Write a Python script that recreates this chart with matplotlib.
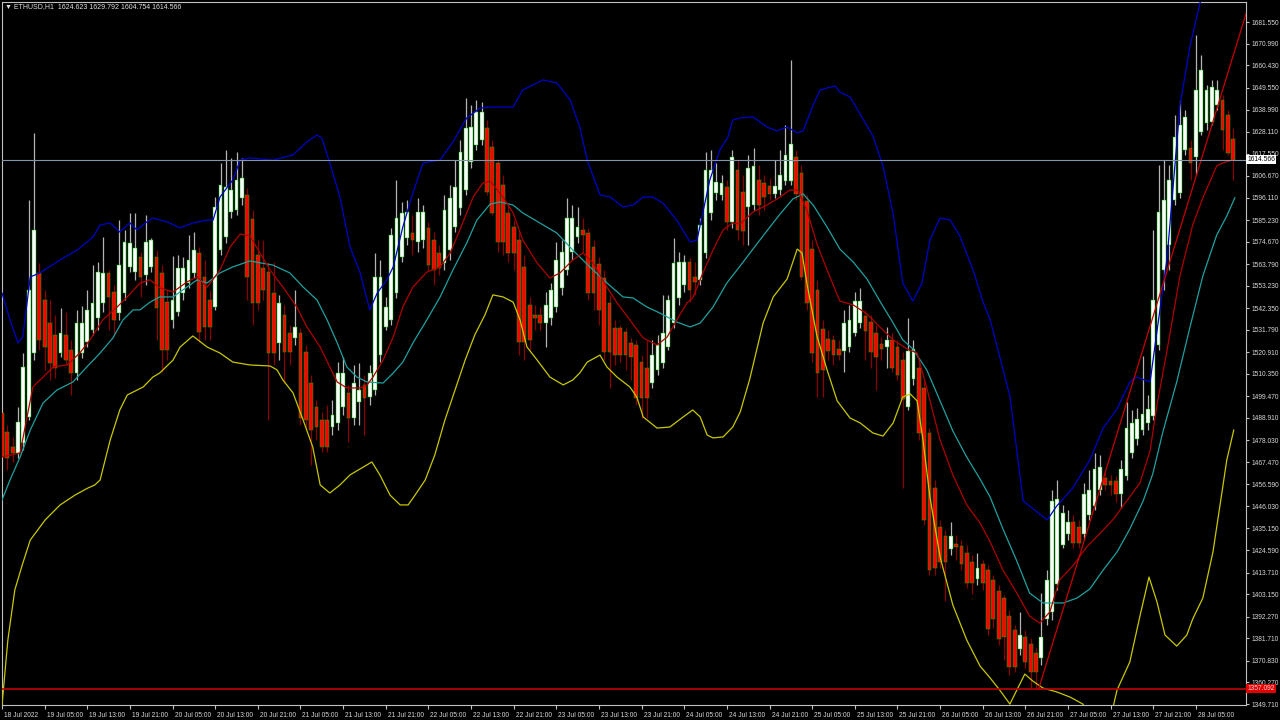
import matplotlib
matplotlib.use('Agg')
import matplotlib.pyplot as plt
import matplotlib.transforms as mtransforms
from matplotlib.ticker import FormatStrFormatter

plt.rcParams['font.family'] = ['Liberation Sans', 'DejaVu Sans']

# ETHUSD H1, 18 Jul 21:00 -> 28 Jul 12:00 (bar index 0..231)
opens = [
    1491.3, 1482.1, 1474.8, 1471.9, 1476.7, 1489.4, 1520.5, 1559.5,
    1546.3, 1535.1, 1529.3, 1520.5, 1529.3, 1522.0, 1510.8, 1520.5,
    1525.9, 1531.7, 1537.6, 1544.9, 1559.5, 1550.2, 1540.0, 1549.7,
    1562.4, 1559.9, 1567.2, 1558.5, 1562.4, 1567.2, 1559.5, 1545.3,
    1536.6, 1540.5, 1549.7, 1554.6, 1559.5, 1569.2, 1557.5, 1546.3,
    1542.9, 1570.6, 1577.0, 1589.1, 1590.1, 1596.0, 1597.4, 1585.7,
    1568.2, 1561.9, 1559.9, 1549.7, 1525.4, 1539.0, 1530.3, 1527.8,
    1530.3, 1521.0, 1505.9, 1494.3, 1487.9, 1487.9, 1484.5, 1486.5,
    1494.3, 1501.1, 1488.9, 1496.7, 1505.0, 1499.1, 1502.5, 1519.5,
    1533.2, 1536.6, 1549.7, 1567.2, 1576.5, 1578.9, 1574.5, 1575.5,
    1581.4, 1575.5, 1569.2, 1564.3, 1570.6, 1581.8, 1591.1, 1599.8,
    1613.5, 1621.7, 1624.2, 1630.0, 1620.8, 1613.0, 1602.3, 1588.7,
    1581.8, 1575.5, 1562.4, 1543.9, 1539.0, 1539.0, 1535.1, 1537.6,
    1542.9, 1552.2, 1560.9, 1569.7, 1577.0, 1580.4, 1578.9, 1572.1,
    1563.8, 1557.0, 1544.9, 1532.7, 1532.7, 1530.7, 1525.4, 1524.4,
    1516.1, 1513.2, 1505.9, 1512.3, 1515.7, 1523.4, 1535.1, 1547.3,
    1553.6, 1564.8, 1557.5, 1556.1, 1569.2, 1588.7, 1598.4, 1597.4,
    1601.3, 1584.3, 1609.6, 1598.9, 1591.6, 1592.5, 1604.7, 1603.2,
    1601.8, 1597.9, 1599.8, 1604.2, 1604.2, 1615.9, 1608.1, 1594.5,
    1571.1, 1551.2, 1532.2, 1527.3, 1526.9, 1522.5, 1521.5, 1523.4,
    1530.3, 1535.1, 1538.5, 1535.6, 1530.3, 1524.9, 1523.4, 1526.9,
    1523.4, 1517.1, 1494.3, 1507.9, 1513.2, 1503.5, 1481.6, 1454.8,
    1435.9, 1431.5, 1425.2, 1427.6, 1426.6, 1423.2, 1418.8, 1410.6,
    1417.9, 1414.9, 1410.1, 1404.7, 1401.3, 1392.5, 1385.7, 1376.5,
    1382.3, 1378.9, 1374.5, 1372.1, 1391.1, 1394.5, 1408.1, 1427.1,
    1432.5, 1438.3, 1435.9, 1432.5, 1441.7, 1446.1, 1453.9, 1459.7,
    1458.2, 1458.2, 1451.9, 1460.7, 1471.9, 1478.7, 1483.0, 1486.5,
    1489.9, 1524.4, 1560.9, 1573.1, 1595.0, 1598.4, 1619.4, 1620.3,
    1615.9, 1628.1, 1632.4, 1632.9, 1641.2, 1643.6, 1636.3, 1624.623,
]
closes = [
    1469.9, 1469.4, 1471.9, 1487.0, 1513.7, 1551.2, 1580.4, 1526.9,
    1523.4, 1515.7, 1513.2, 1530.3, 1517.1, 1510.8, 1535.1, 1535.1,
    1541.5, 1544.9, 1559.9, 1559.5, 1547.8, 1536.6, 1563.3, 1574.5,
    1574.1, 1571.6, 1557.5, 1574.5, 1575.5, 1542.4, 1522.0, 1522.0,
    1546.3, 1561.9, 1561.9, 1565.8, 1570.6, 1530.7, 1533.2, 1533.2,
    1591.6, 1602.3, 1601.3, 1599.8, 1604.7, 1605.7, 1557.5, 1544.9,
    1544.9, 1551.2, 1520.5, 1520.5, 1544.9, 1521.0, 1521.0, 1533.2,
    1488.9, 1487.9, 1483.0, 1484.5, 1474.8, 1474.8, 1490.4, 1510.8,
    1510.8, 1488.9, 1505.9, 1502.5, 1498.6, 1510.8, 1557.5, 1557.5,
    1542.9, 1577.9, 1586.2, 1588.7, 1589.1, 1575.5, 1589.1, 1589.1,
    1563.3, 1560.9, 1561.9, 1590.1, 1596.0, 1601.3, 1618.3, 1630.0,
    1630.5, 1637.8, 1637.8, 1598.9, 1588.7, 1574.5, 1574.5, 1569.2,
    1569.2, 1525.9, 1525.9, 1526.9, 1537.6, 1535.1, 1543.9, 1551.2,
    1565.8, 1569.7, 1586.2, 1586.2, 1581.8, 1577.9, 1549.7, 1549.7,
    1541.5, 1521.0, 1521.0, 1519.5, 1519.5, 1519.5, 1518.6, 1498.6,
    1498.6, 1498.6, 1519.5, 1524.4, 1530.3, 1546.3, 1564.3, 1564.8,
    1564.8, 1551.2, 1555.1, 1582.8, 1609.6, 1609.6, 1603.7, 1603.2,
    1584.3, 1615.9, 1580.4, 1579.9, 1610.5, 1611.5, 1592.5, 1596.4,
    1597.9, 1601.8, 1607.1, 1616.9, 1622.2, 1597.9, 1557.5, 1544.9,
    1520.5, 1510.8, 1512.3, 1521.5, 1519.5, 1519.5, 1535.1, 1536.6,
    1545.8, 1545.8, 1531.2, 1521.0, 1518.6, 1522.5, 1526.9, 1513.2,
    1509.8, 1498.1, 1521.5, 1522.5, 1481.6, 1439.3, 1414.9, 1415.9,
    1418.8, 1418.8, 1431.5, 1426.1, 1417.9, 1408.6, 1408.6, 1415.9,
    1408.6, 1386.2, 1391.1, 1381.4, 1382.3, 1367.7, 1367.7, 1383.3,
    1370.2, 1365.3, 1365.3, 1382.3, 1410.1, 1448.5, 1449.5, 1442.7,
    1438.3, 1428.1, 1428.1, 1451.9, 1453.9, 1464.1, 1465.0, 1456.3,
    1456.3, 1451.9, 1464.1, 1484.0, 1486.5, 1488.4, 1490.8, 1493.3,
    1546.3, 1589.1, 1595.0, 1604.7, 1625.6, 1631.5, 1635.4, 1613.0,
    1648.5, 1658.2, 1648.5, 1650.0, 1648.5, 1629.0, 1617.8, 1614.566,
]
highs = [
    1495.2, 1485.5, 1479.7, 1494.3, 1520.5, 1595.0, 1627.6, 1564.3,
    1551.2, 1546.3, 1539.0, 1542.4, 1540.5, 1526.9, 1541.5, 1543.4,
    1551.2, 1563.3, 1564.8, 1577.0, 1560.9, 1553.6, 1585.2, 1580.4,
    1588.7, 1588.7, 1569.7, 1587.7, 1576.5, 1570.6, 1563.3, 1551.2,
    1567.7, 1568.2, 1567.2, 1577.9, 1579.4, 1572.1, 1565.8, 1551.2,
    1596.4, 1613.0, 1619.4, 1615.4, 1618.3, 1615.4, 1600.8, 1590.1,
    1575.5, 1575.5, 1564.8, 1564.8, 1548.8, 1543.9, 1534.2, 1551.2,
    1532.7, 1524.4, 1509.8, 1497.7, 1491.8, 1495.2, 1497.7, 1516.1,
    1518.6, 1505.0, 1514.7, 1515.7, 1509.8, 1514.7, 1569.2, 1565.8,
    1547.8, 1581.4, 1604.7, 1594.0, 1595.0, 1587.7, 1596.0, 1592.5,
    1584.3, 1579.4, 1573.1, 1597.4, 1602.3, 1614.4, 1624.2, 1644.6,
    1641.2, 1643.6, 1642.7, 1633.9, 1624.2, 1614.4, 1607.1, 1592.5,
    1585.2, 1579.4, 1568.2, 1547.8, 1543.9, 1542.9, 1550.2, 1554.6,
    1574.5, 1575.5, 1596.0, 1592.5, 1591.6, 1586.2, 1581.4, 1575.5,
    1567.2, 1560.9, 1548.8, 1536.6, 1534.2, 1532.7, 1527.8, 1526.9,
    1519.5, 1526.9, 1526.9, 1529.3, 1548.8, 1548.8, 1576.5, 1569.7,
    1568.2, 1566.8, 1564.8, 1586.2, 1618.3, 1619.4, 1613.0, 1607.1,
    1604.7, 1619.4, 1614.4, 1607.1, 1616.9, 1620.3, 1612.0, 1607.1,
    1605.7, 1614.4, 1619.4, 1631.5, 1663.1, 1619.4, 1612.0, 1597.4,
    1575.5, 1556.1, 1536.6, 1531.7, 1529.3, 1526.9, 1541.5, 1543.9,
    1550.2, 1552.2, 1541.5, 1539.0, 1534.2, 1528.3, 1533.2, 1530.3,
    1526.9, 1521.0, 1537.6, 1526.9, 1517.1, 1507.4, 1484.0, 1458.7,
    1439.3, 1434.4, 1438.3, 1432.0, 1429.5, 1427.1, 1422.2, 1423.2,
    1419.8, 1417.4, 1412.5, 1407.6, 1402.8, 1395.5, 1388.2, 1394.5,
    1385.7, 1381.9, 1377.0, 1403.7, 1414.9, 1453.9, 1458.7, 1446.6,
    1444.1, 1441.7, 1439.3, 1457.3, 1463.6, 1471.9, 1470.9, 1462.6,
    1461.2, 1460.7, 1468.5, 1496.7, 1492.8, 1493.8, 1519.1, 1500.1,
    1580.4, 1612.0, 1614.4, 1612.0, 1636.3, 1643.6, 1638.8, 1624.2,
    1675.3, 1665.5, 1650.9, 1653.4, 1653.4, 1646.1, 1638.8, 1629.792,
]
lows = [
    1463.6, 1463.6, 1467.5, 1469.4, 1473.3, 1487.9, 1517.1, 1522.0,
    1512.3, 1507.4, 1508.4, 1518.6, 1514.7, 1500.1, 1507.4, 1518.1,
    1523.4, 1529.3, 1531.7, 1540.5, 1531.7, 1529.3, 1536.6, 1546.3,
    1559.9, 1556.1, 1547.8, 1553.6, 1559.9, 1526.9, 1511.3, 1517.1,
    1532.7, 1538.5, 1546.3, 1552.2, 1557.0, 1525.9, 1526.9, 1526.9,
    1541.5, 1568.2, 1574.1, 1586.2, 1587.7, 1592.5, 1546.3, 1534.2,
    1541.5, 1546.3, 1487.9, 1514.7, 1517.1, 1505.9, 1514.7, 1524.4,
    1485.5, 1483.0, 1466.0, 1478.2, 1472.4, 1472.4, 1480.6, 1483.0,
    1490.4, 1477.2, 1485.5, 1485.5, 1480.6, 1495.2, 1500.1, 1516.1,
    1531.7, 1534.2, 1547.3, 1564.8, 1573.1, 1568.2, 1569.7, 1571.6,
    1560.9, 1553.6, 1558.5, 1560.9, 1565.8, 1579.4, 1587.7, 1597.4,
    1610.5, 1619.4, 1621.7, 1597.4, 1587.7, 1569.7, 1568.2, 1564.8,
    1560.9, 1519.5, 1517.1, 1522.0, 1531.7, 1531.7, 1523.4, 1534.2,
    1540.5, 1548.8, 1558.5, 1565.8, 1574.1, 1569.2, 1546.3, 1541.5,
    1534.2, 1517.1, 1503.5, 1514.7, 1516.1, 1512.3, 1507.4, 1495.2,
    1488.9, 1488.9, 1503.5, 1509.8, 1513.2, 1522.0, 1532.7, 1543.9,
    1550.2, 1545.3, 1548.8, 1553.6, 1566.8, 1585.2, 1595.0, 1595.0,
    1580.4, 1581.4, 1575.5, 1573.1, 1573.1, 1590.1, 1587.7, 1590.1,
    1595.0, 1596.0, 1597.4, 1602.3, 1602.3, 1595.0, 1556.1, 1541.5,
    1516.1, 1499.1, 1499.1, 1517.1, 1514.7, 1517.1, 1511.3, 1521.0,
    1528.8, 1532.7, 1517.1, 1513.2, 1502.5, 1517.1, 1513.2, 1511.3,
    1507.4, 1454.8, 1492.8, 1505.0, 1478.2, 1436.8, 1412.5, 1412.5,
    1415.9, 1399.8, 1422.2, 1419.8, 1414.9, 1406.2, 1403.3, 1407.6,
    1405.2, 1383.3, 1386.7, 1378.4, 1371.1, 1363.8, 1365.3, 1373.6,
    1367.3, 1357.5, 1357.092, 1368.7, 1388.2, 1390.6, 1405.2, 1425.6,
    1429.5, 1425.6, 1425.6, 1429.5, 1439.3, 1444.1, 1451.4, 1453.9,
    1451.4, 1448.0, 1445.1, 1458.7, 1469.4, 1475.8, 1480.6, 1483.0,
    1487.9, 1522.0, 1551.2, 1560.9, 1592.5, 1596.0, 1616.9, 1604.7,
    1607.1, 1626.6, 1629.0, 1631.5, 1638.8, 1619.4, 1616.9, 1604.754,
]

# indicator lines: (bar index, price)
bb_upper = [(0, 1549.7), (1.5, 1536.6), (3.0, 1525.4), (3.9, 1528.3), (5.3, 1557.5), (7.1, 1559.5),
            (10.9, 1565.8), (14.1, 1570.6), (17.1, 1577.0), (18.4, 1582.8), (20.3, 1583.8), (22.1, 1579.4),
            (24.0, 1583.8), (25.3, 1580.4), (27.2, 1584.3), (28.3, 1586.2), (31.0, 1584.3), (33.4, 1581.4),
            (35.8, 1583.8), (38.5, 1585.2), (39.6, 1585.2), (40.9, 1596.4), (43.3, 1604.7), (44.7, 1614.4),
            (46.5, 1615.4), (50.8, 1614.4), (54.6, 1616.9), (57.2, 1623.2), (59.1, 1626.6), (60.0, 1625.1),
            (61.5, 1613.0), (63.4, 1596.4), (65.3, 1572.1), (67.2, 1559.5), (69.0, 1541.5), (70.4, 1549.7),
            (72.2, 1556.1), (73.4, 1562.4), (75.2, 1581.8), (77.1, 1598.4), (79.0, 1613.0), (82.2, 1614.4),
            (84.6, 1623.2), (87.2, 1634.9), (89.7, 1639.7), (91.6, 1640.2), (95.9, 1640.2), (97.7, 1648.5),
            (101.5, 1653.4), (104.1, 1651.9), (106.6, 1643.6), (108.4, 1630.5), (109.8, 1614.4), (112.2, 1597.4),
            (114.1, 1596.4), (116.5, 1591.6), (118.4, 1592.5), (120.3, 1596.4), (122.1, 1596.4), (124.0, 1593.5),
            (126.6, 1585.2), (129.1, 1574.5), (130.4, 1575.5), (132.8, 1604.7), (134.7, 1619.4), (136.2, 1625.6),
            (137.1, 1633.9), (138.5, 1634.9), (140.9, 1635.4), (143.5, 1630.5), (145.4, 1628.6), (147.3, 1630.5),
            (149.2, 1627.6), (150.3, 1628.6), (152.2, 1641.2), (153.5, 1648.5), (156.3, 1650.5), (157.2, 1647.5),
            (159.1, 1645.1), (161.0, 1636.8), (163.4, 1626.1), (165.3, 1611.5), (167.2, 1588.2), (169.0, 1554.6),
            (170.9, 1545.8), (172.6, 1554.6), (174.1, 1575.5), (176.0, 1586.2), (177.9, 1585.2), (179.7, 1577.5),
            (182.2, 1560.9), (184.0, 1545.8), (185.4, 1536.6), (189.1, 1499.6), (191.6, 1448.5), (196.1, 1439.3),
            (197.9, 1446.1), (200.9, 1454.8), (204.1, 1468.5), (206.6, 1484.0), (209.2, 1493.3), (211.6, 1506.4),
            (212.9, 1508.8), (215.4, 1506.4), (216.7, 1531.2), (218.6, 1566.8), (221.0, 1640.7), (222.9, 1669.9),
            (224.9, 1692.3), (227.6, 1721.5)]

bb_lower = [(0, 1349.2), (1.1, 1380.9), (2.4, 1405.2), (3.8, 1417.4), (5.3, 1429.5), (8.1, 1439.3),
            (10.9, 1446.6), (13.7, 1451.4), (16.1, 1454.8), (17.4, 1456.3), (18.4, 1458.7), (20.3, 1478.2),
            (22.1, 1492.8), (23.5, 1500.1), (26.5, 1504.0), (28.3, 1508.8), (29.6, 1510.8), (32.1, 1517.1),
            (33.4, 1523.4), (35.8, 1528.8), (38.5, 1523.4), (40.9, 1520.5), (43.3, 1516.1), (46.5, 1514.7),
            (50.3, 1514.2), (51.6, 1512.3), (52.7, 1507.4), (54.6, 1501.1), (56.5, 1487.9), (58.3, 1474.8),
            (59.7, 1456.3), (61.5, 1452.4), (63.4, 1456.3), (65.3, 1461.2), (67.5, 1464.6), (69.4, 1467.5),
            (70.9, 1461.2), (72.8, 1451.4), (74.7, 1446.6), (76.2, 1446.6), (77.5, 1451.4), (79.4, 1458.7),
            (81.2, 1470.9), (83.1, 1487.9), (85.0, 1502.5), (86.9, 1517.1), (88.7, 1529.3), (90.6, 1539.0),
            (92.1, 1548.8), (94.0, 1547.8), (95.9, 1545.3), (97.2, 1536.6), (98.5, 1523.4), (100.4, 1517.1),
            (102.8, 1508.8), (105.3, 1505.0), (107.1, 1507.4), (108.4, 1510.8), (109.8, 1516.1), (112.2, 1519.5),
            (113.5, 1513.7), (115.4, 1508.8), (117.8, 1504.0), (119.1, 1499.1), (120.3, 1489.4), (122.9, 1484.0),
            (125.3, 1484.5), (127.8, 1489.4), (129.6, 1492.8), (131.0, 1489.4), (132.3, 1480.6), (133.4, 1479.2),
            (135.3, 1479.7), (137.1, 1484.5), (138.5, 1491.8), (140.3, 1507.9), (142.8, 1535.1), (144.7, 1547.8),
            (147.3, 1556.5), (149.2, 1571.1), (150.1, 1569.2), (151.0, 1554.6), (152.9, 1528.8), (154.8, 1512.3),
            (156.7, 1497.2), (159.1, 1488.9), (161.0, 1486.5), (163.4, 1481.6), (165.3, 1480.1), (167.2, 1486.5),
            (169.0, 1499.1), (170.4, 1500.6), (171.7, 1497.2), (172.8, 1478.2), (174.1, 1450.4), (176.0, 1421.3),
            (178.4, 1397.9), (181.0, 1380.9), (183.5, 1368.2), (185.4, 1362.4), (187.2, 1356.5), (189.1, 1349.7),
            (190.4, 1356.5), (191.9, 1364.3), (193.4, 1360.9), (195.3, 1357.5), (197.9, 1355.6), (200.4, 1353.1),
            (202.8, 1349.7), (204.1, 1341.9), (206.0, 1337.1), (207.9, 1341.9), (209.2, 1356.5), (211.6, 1370.2),
            (213.5, 1392.5), (215.2, 1411.5), (216.7, 1399.4), (218.2, 1383.3), (220.4, 1377.9), (222.3, 1383.3),
            (223.4, 1391.1), (225.3, 1401.3), (227.2, 1423.7), (228.5, 1446.1), (229.8, 1468.5), (231.1, 1483.0)]

bb_middle = [(0, 1449.0), (1.5, 1458.7), (3.4, 1469.9), (5.3, 1483.0), (7.7, 1496.2), (10.3, 1502.5),
             (13.3, 1506.4), (15.9, 1513.7), (18.4, 1520.5), (20.8, 1527.8), (22.7, 1536.6), (24.6, 1541.5),
             (25.9, 1541.5), (27.8, 1545.3), (29.6, 1547.8), (32.1, 1547.8), (34.7, 1552.6), (36.6, 1556.1),
             (38.5, 1554.6), (40.9, 1559.5), (43.3, 1562.4), (46.5, 1565.3), (50.8, 1563.3), (54.0, 1559.5),
             (56.5, 1552.6), (59.1, 1546.3), (61.0, 1536.6), (62.9, 1525.4), (64.7, 1513.7), (66.6, 1508.8),
             (68.5, 1506.4), (71.5, 1505.9), (73.4, 1510.8), (75.2, 1516.1), (77.1, 1525.4), (79.7, 1536.6),
             (82.2, 1547.8), (84.6, 1560.9), (87.2, 1574.1), (89.1, 1585.2), (91.6, 1593.0), (93.4, 1594.0),
             (95.9, 1592.5), (97.7, 1588.7), (100.9, 1583.8), (104.1, 1578.9), (107.1, 1570.6), (110.3, 1562.4),
             (113.5, 1554.6), (116.5, 1547.8), (118.4, 1547.3), (121.0, 1542.9), (123.4, 1540.0), (126.6, 1535.6),
             (129.1, 1533.2), (131.0, 1535.1), (133.4, 1542.9), (136.0, 1554.6), (138.5, 1562.9), (140.9, 1571.1),
             (143.5, 1579.9), (146.0, 1588.2), (148.4, 1595.5), (150.3, 1597.9), (152.2, 1592.5), (154.8, 1581.8),
             (157.2, 1571.1), (159.7, 1564.8), (162.3, 1556.5), (164.7, 1545.8), (167.2, 1535.1), (169.0, 1526.9),
             (170.9, 1522.5), (173.5, 1512.3), (176.0, 1497.2), (178.4, 1482.6), (181.0, 1469.9), (183.5, 1459.2),
             (185.4, 1450.4), (187.8, 1434.9), (190.4, 1419.3), (192.8, 1403.7), (195.3, 1398.9), (199.1, 1398.9),
             (201.7, 1401.3), (204.1, 1405.7), (206.6, 1414.9), (209.2, 1423.7), (211.6, 1434.9), (214.1, 1448.5),
             (215.9, 1461.6), (217.8, 1482.1), (220.4, 1506.4), (222.9, 1533.2), (225.3, 1558.0), (227.9, 1577.9),
             (229.8, 1587.2), (231.3, 1596.0)]

ma_fast = [(0, 1469.9), (3.4, 1471.9), (4.7, 1489.4), (5.8, 1504.0), (7.7, 1508.8), (9.6, 1513.7),
           (12.2, 1514.7), (14.6, 1520.5), (16.5, 1526.9), (18.9, 1536.6), (21.6, 1542.9), (23.5, 1547.8),
           (25.9, 1554.6), (27.8, 1556.1), (29.6, 1552.2), (32.1, 1550.2), (34.7, 1555.1), (36.6, 1557.5),
           (38.5, 1552.6), (40.9, 1560.9), (42.8, 1572.1), (44.7, 1578.4), (46.5, 1577.5), (48.4, 1569.2),
           (50.3, 1560.9), (52.7, 1552.6), (55.3, 1542.9), (57.2, 1533.2), (59.7, 1523.4), (61.5, 1513.7),
           (62.9, 1506.4), (64.7, 1503.5), (67.2, 1503.5), (68.5, 1505.0), (69.6, 1508.8), (71.5, 1517.1),
           (73.4, 1528.3), (75.2, 1542.9), (77.1, 1552.6), (79.7, 1559.9), (82.2, 1562.4), (84.1, 1569.2),
           (85.9, 1580.4), (88.4, 1596.4), (90.2, 1603.2), (91.6, 1604.2), (94.0, 1596.4), (95.9, 1588.7),
           (97.7, 1575.5), (100.4, 1564.3), (102.8, 1557.0), (104.7, 1559.5), (107.1, 1565.8), (109.0, 1569.2),
           (110.9, 1564.3), (113.5, 1552.6), (115.4, 1544.9), (117.8, 1536.6), (120.3, 1527.8), (122.9, 1524.4),
           (124.8, 1528.3), (126.6, 1536.6), (128.5, 1544.9), (129.6, 1547.3), (131.5, 1559.5), (133.4, 1570.6),
           (135.3, 1580.4), (137.1, 1583.8), (138.5, 1583.3), (140.9, 1589.1), (143.5, 1592.5), (146.0, 1596.4),
           (147.8, 1599.8), (149.3, 1599.8), (151.0, 1590.1), (152.9, 1573.6), (154.8, 1560.9), (157.2, 1545.8),
           (159.7, 1543.9), (162.3, 1539.5), (164.7, 1533.2), (167.2, 1526.9), (169.8, 1522.5), (171.7, 1520.5),
           (173.5, 1503.5), (176.0, 1478.2), (178.4, 1461.2), (181.0, 1446.6), (183.5, 1437.8), (185.4, 1428.6),
           (187.8, 1414.9), (190.4, 1403.7), (192.8, 1392.5), (194.7, 1389.1), (196.6, 1394.5), (198.4, 1410.1),
           (200.9, 1416.9), (203.5, 1426.1), (205.9, 1432.5), (208.4, 1439.3), (211.0, 1448.5), (213.5, 1457.3),
           (215.4, 1472.9), (216.7, 1495.2), (218.6, 1522.0), (221.0, 1558.0), (223.4, 1582.8), (225.3, 1596.0),
           (227.9, 1611.5), (229.0, 1613.0), (230.9, 1614.4)]

trend_line = [(194.5, 1357.1), (233.4, 1685.5)]
bid_price = 1614.566
support_level = 1357.092

price_ticks = [1681.55, 1670.99, 1660.43, 1649.55, 1638.99, 1628.11, 1617.55, 1606.67,
               1596.11, 1585.23, 1574.67, 1563.79, 1553.23, 1542.35, 1531.79, 1520.91,
               1510.35, 1499.47, 1488.91, 1478.03, 1467.47, 1456.59, 1446.03, 1435.15,
               1424.59, 1413.71, 1403.15, 1392.27, 1381.71, 1370.83, 1360.27, 1349.71]
time_labels = ['18 Jul 2022', '19 Jul 05:00', '19 Jul 13:00', '19 Jul 21:00', '20 Jul 05:00',
               '20 Jul 13:00', '20 Jul 21:00', '21 Jul 05:00', '21 Jul 13:00', '21 Jul 21:00',
               '22 Jul 05:00', '22 Jul 13:00', '22 Jul 21:00', '23 Jul 05:00', '23 Jul 13:00',
               '23 Jul 21:00', '24 Jul 05:00', '24 Jul 13:00', '24 Jul 21:00', '25 Jul 05:00',
               '25 Jul 13:00', '25 Jul 21:00', '26 Jul 05:00', '26 Jul 13:00', '26 Jul 21:00',
               '27 Jul 05:00', '27 Jul 13:00', '27 Jul 21:00', '28 Jul 05:00']
header = '\u25bc ETHUSD,H1  1624.623 1629.792 1604.754 1614.566'

fig = plt.figure(figsize=(12.8, 7.2), dpi=100, facecolor='black')
ax = fig.add_axes([2 / 1280, 15 / 720, 1244 / 1280, 703 / 720], facecolor='black')

# candles
bars = list(range(len(closes)))
bull = [c >= o for o, c in zip(opens, closes)]
for i in bars:
    wick_col = '#b4b4b4' if bull[i] else '#8c0000'
    ax.vlines(i, lows[i], highs[i], color=wick_col, lw=0.9, zorder=2)
body_bottom = [min(o, c) for o, c in zip(opens, closes)]
body_height = [abs(c - o) for o, c in zip(opens, closes)]
body_col = ['white' if b else '#ff0000' for b in bull]
ax.bar(bars, body_height, bottom=body_bottom, width=0.7, color=body_col,
       edgecolor='#00b400', linewidth=0.35, zorder=3)

# indicators
for pts, col in [(bb_upper, '#0000c8'), (bb_lower, '#c8c800'),
                 (bb_middle, '#20a0a0'), (ma_fast, '#b00000')]:
    xs, ys = zip(*pts)
    ax.plot(xs, ys, color=col, lw=0.9, zorder=4)
tx, ty = zip(*trend_line)
ax.plot(tx, ty, color='#c80000', lw=0.9, zorder=4)

ax.axhline(bid_price, color='#8494a8', lw=0.8, zorder=5)
ax.axhline(support_level, color='#c00000', lw=1.2, zorder=5)

ax.set_xlim(0, 233.4)
ax.set_ylim(1349.25, 1691.3)

for s in ax.spines.values():
    s.set_color('#c0c0c0')
    s.set_linewidth(0.8)

ax.yaxis.tick_right()
ax.set_yticks(price_ticks)
ax.yaxis.set_major_formatter(FormatStrFormatter('%.3f'))
ax.tick_params(axis='y', colors='#c0c0c0', labelcolor='#d8d8d8', labelsize=4.8,
               length=2.5, width=0.8, pad=1.2)
ax.set_xticks(range(0, 8 * len(time_labels), 8))
ax.set_xticklabels(time_labels, ha='left')
ax.tick_params(axis='x', colors='#c0c0c0', labelcolor='#d8d8d8', labelsize=4.8,
               length=3, width=0.8, pad=2)
shift = mtransforms.ScaledTranslation(2 / 100, 0, fig.dpi_scale_trans)
for lab in ax.get_xticklabels():
    lab.set_transform(lab.get_transform() + shift)

ytrans = ax.get_yaxis_transform()
ax.text(1.001, bid_price, '%.3f' % bid_price, transform=ytrans, ha='left', va='center',
        fontsize=4.8, color='black', clip_on=False, zorder=10,
        bbox=dict(boxstyle='square,pad=0.15', fc='white', ec='none'))
ax.text(1.001, support_level, '%.3f' % support_level, transform=ytrans, ha='left', va='center',
        fontsize=4.8, color='#ffd0d0', clip_on=False, zorder=10,
        bbox=dict(boxstyle='square,pad=0.15', fc='#e00000', ec='none'))

fig.text(5 / 1280, 1 - 7 / 720, header, color='#e0e0e0', fontsize=5, va='center')

fig.savefig('out.png', dpi=100, facecolor='black')
